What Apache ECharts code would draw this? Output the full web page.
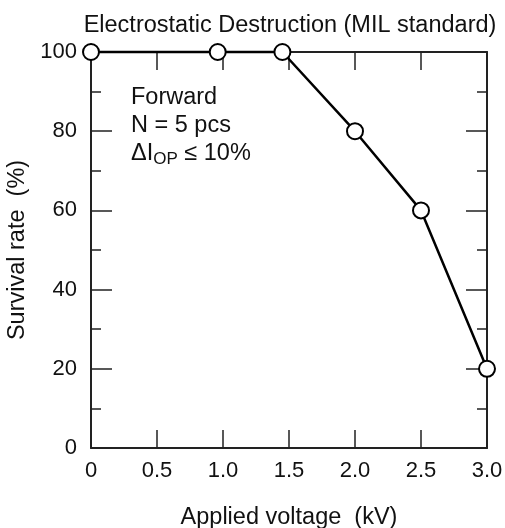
<!DOCTYPE html>
<html><head><meta charset="utf-8">
<script src="https://cdn.jsdelivr.net/npm/echarts@6/dist/echarts.min.js"></script>
<style>html,body{margin:0;padding:0;background:#fff}#c{width:505px;height:528px}</style>
</head><body><div id="c"></div>
<script>
const voltage = [0, 0.96, 1.45, 2.0, 2.5, 3.0];
const survival = [100, 100, 100, 80, 60, 20];
const xTicks = ['0', '0.5', '1.0', '1.5', '2.0', '2.5', '3.0'];
const yTicks = ['0', '20', '40', '60', '80', '100'];
const titleText = 'Electrostatic Destruction (MIL standard)';
const xName = 'Applied voltage  (kV)';
const yName = 'Survival rate  (%)';

const FONT = 'Liberation Sans, Arial, sans-serif';
const TXT = 23.5;
const TICK = 22;
const chart = echarts.init(document.getElementById('c'), null, {renderer: 'canvas'});
const axisLine = {show: true, onZero: false, lineStyle: {color: '#222', width: 2}};
chart.setOption({
  animation: false,
  title: {text: titleText, left: 285, top: 9, textAlign: 'center',
    textStyle: {fontFamily: FONT, fontSize: TXT, fontWeight: 'normal', color: '#111'}},
  grid: {left: 91, top: 52, width: 396, height: 396, containLabel: false, outerBoundsMode: 'none'},
  xAxis: [{
    type: 'value', min: 0, max: 3, interval: 0.5, position: 'bottom',
    axisLine: axisLine,
    axisTick: {show: true, inside: true, length: 18, lineStyle: {color: '#222', width: 1.5}},
    axisLabel: {fontFamily: FONT, fontSize: TICK, color: '#111', margin: 12,
      formatter: v => v === 0 ? '{z|0}' : xTicks[Math.round(v / 0.5)],
      rich: {z: {fontFamily: FONT, fontSize: TICK, color: '#111', padding: [0, 0, 6, 0]}}},
    splitLine: {show: false},
    name: xName, nameLocation: 'middle', nameGap: 58,
    nameTextStyle: {fontFamily: FONT, fontSize: TXT, color: '#111'}
  }, {
    type: 'value', min: 0, max: 3, interval: 0.5, position: 'top',
    axisLine: axisLine,
    axisTick: {show: true, inside: true, length: 18, lineStyle: {color: '#222', width: 1.5}},
    axisLabel: {show: false}, splitLine: {show: false}
  }],
  yAxis: [{
    type: 'value', min: 0, max: 100, interval: 20, position: 'left',
    axisLine: axisLine,
    axisTick: {show: true, inside: true, length: 21, lineStyle: {color: '#222', width: 1.5}},
    minorTick: {show: true, splitNumber: 2, length: 10, lineStyle: {color: '#222', width: 1.5}},
    axisLabel: {fontFamily: FONT, fontSize: TICK, color: '#111', margin: 14,
      formatter: v => yTicks[Math.round(v / 20)]},
    splitLine: {show: false},
    name: yName, nameLocation: 'middle', nameGap: 72, nameRotate: 90,
    nameTextStyle: {fontFamily: FONT, fontSize: TXT, color: '#111', verticalAlign: 'middle'}
  }, {
    type: 'value', min: 0, max: 100, interval: 20, position: 'right',
    axisLine: axisLine,
    axisTick: {show: true, inside: true, length: 21, lineStyle: {color: '#222', width: 1.5}},
    minorTick: {show: true, splitNumber: 2, length: 10, lineStyle: {color: '#222', width: 1.5}},
    axisLabel: {show: false}, splitLine: {show: false}
  }],
  graphic: [{
    type: 'text', left: 131, top: 84,
    style: {
      text: 'Forward\nN = 5 pcs\n{d|ΔI}{s|OP}{d| ≤ 10%}',
      fontFamily: FONT, fontSize: TXT, fill: '#111', lineHeight: 28,
      rich: {
        d: {fontFamily: FONT, fontSize: TXT, fill: '#111', lineHeight: 28},
        s: {fontFamily: FONT, fontSize: 17, fill: '#111', verticalAlign: 'bottom', padding: [10, 0, 0, 0], lineHeight: 28}
      }
    }
  }],
  series: [{
    type: 'line', xAxisIndex: 0, yAxisIndex: 0,
    data: voltage.map((v, i) => [v, survival[i]]),
    lineStyle: {color: '#000', width: 2.5},
    symbol: 'circle', symbolSize: 16,
    itemStyle: {color: '#fff', borderColor: '#000', borderWidth: 2},
    clip: false, z: 5
  }]
});
</script></body></html>
